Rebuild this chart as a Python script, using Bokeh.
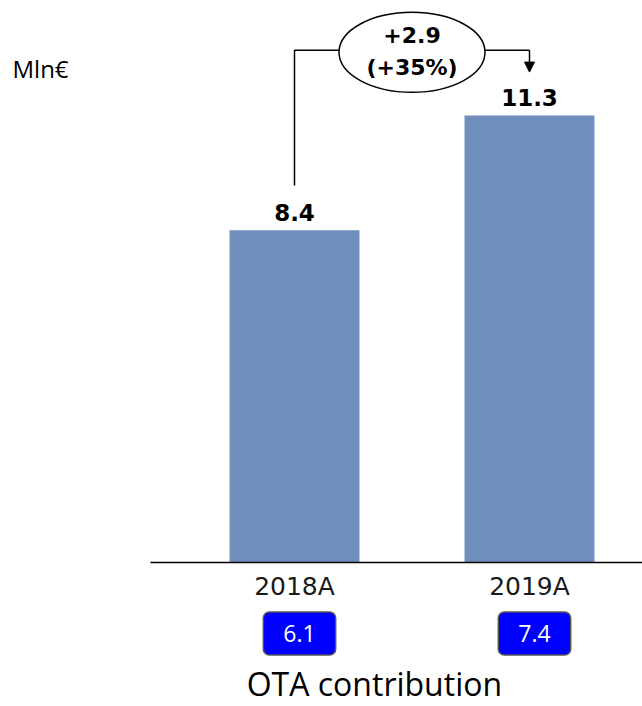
from bokeh.plotting import figure
from bokeh.models import Range1d, Arrow, NormalHead, ColumnDataSource, Label
from bokeh.core.properties import value
from bokeh.embed import file_html
from bokeh.resources import INLINE

# Revenue by year (Mln€) and OTA contribution
categories = ["2018A", "2019A"]
revenue = [8.4, 11.3]
ota_contribution = [6.1, 7.4]
unit_label = "Mln€"
footer_label = "OTA contribution"

BAR_COLOR = "#6F8FBD"
W, H = 642, 706

# scales: 235 px between categories, ~39.55 px per Mln€
px_x, px_y = 235.0, 39.55
x0_px, y0_px = 294.0, 562.0

p = figure(width=W, height=H, output_backend="svg", toolbar_location=None,
           x_range=Range1d(-x0_px / px_x, (W - x0_px) / px_x),
           y_range=Range1d(-(H - y0_px) / px_y, y0_px / px_y),
           min_border=0)
p.axis.visible = False
p.grid.visible = False
p.outline_line_color = None
p.background_fill_color = "white"
p.border_fill_color = "white"

xs = list(range(len(categories)))
src = ColumnDataSource(dict(
    x=xs, cat=categories, rev=revenue,
    rev_txt=[f"{v:.1f}" for v in revenue],
    ota_txt=[f"{v:.1f}" for v in ota_contribution],
    zero=[0] * len(xs),
))

# bars
p.vbar(x="x", top="rev", width=0.553, bottom=0, source=src,
       fill_color=BAR_COLOR, line_color=None)

# baseline
p.segment(x0=-0.613, y0=0, x1=p.x_range.end, y1=0, line_color="black", line_width=1.5)

# value labels above bars
p.text(x="x", y="rev", text="rev_txt", source=src, y_offset=-18,
       text_align="center", text_baseline="middle",
       text_font=value("DejaVu Sans"), text_font_style="bold",
       text_font_size="23px", text_color="black")

# category labels
p.text(x="x", y="zero", text="cat", source=src, y_offset=24,
       text_align="center", text_baseline="middle",
       text_font=value("DejaVu Sans"), text_font_size="25px", text_color="#1a1a1a")

# OTA contribution boxes
p.text(x="x", y="zero", text="ota_txt", source=src, x_offset=5, y_offset=71,
       text_align="center", text_baseline="middle",
       text_font=value("Open Sans"), text_font_size="23px", text_color="white",
       background_fill_color="#0000FF", border_line_color="#555555",
       border_line_width=1.5, border_radius=6,
       padding=dict(left=20, right=20, top=13, bottom=13))

# growth bubble and connector
delta = revenue[1] - revenue[0]
pct = delta / revenue[0] * 100
y_top = 12.95
mid = (xs[0] + xs[1]) / 2
ell_w, ell_h = 146, 80
half_w = ell_w / 2 / px_x

p.line(x=[xs[0], xs[0], mid - half_w], y=[revenue[0] + 1.13, y_top, y_top],
       line_color="black", line_width=1.5)
p.line(x=[mid + half_w, xs[1]], y=[y_top, y_top], line_color="black", line_width=1.5)
p.add_layout(Arrow(end=NormalHead(size=10, fill_color="black", line_color="black"),
                   x_start=xs[1], y_start=y_top, x_end=xs[1], y_end=revenue[1] + 1.1,
                   line_color="black", line_width=1.5))

p.ellipse(x=[mid], y=[12.9], width=ell_w, height=ell_h,
          width_units="screen", height_units="screen",
          fill_color="white", line_color="black", line_width=1.5)
p.text(x=[mid, mid], y=[12.9, 12.9], text=[f"+{delta:.1f}", f"(+{pct:.0f}%)"],
       y_offset=[-17, 15], text_align="center", text_baseline="middle",
       text_font=value("DejaVu Sans"), text_font_style="bold",
       text_font_size="22px", text_color="black")

# unit and footer
p.add_layout(Label(x=-1.2, y=12.49, text=unit_label, text_align="left",
                   text_baseline="middle", text_font="Open Sans",
                   text_font_size="24px", text_color="black"))
p.add_layout(Label(x=0.34, y=-3.06, text=footer_label, text_align="center",
                   text_baseline="middle", text_font="Open Sans",
                   text_font_size="32px", text_color="black"))

open("out.html", "w").write(file_html(p, INLINE))
